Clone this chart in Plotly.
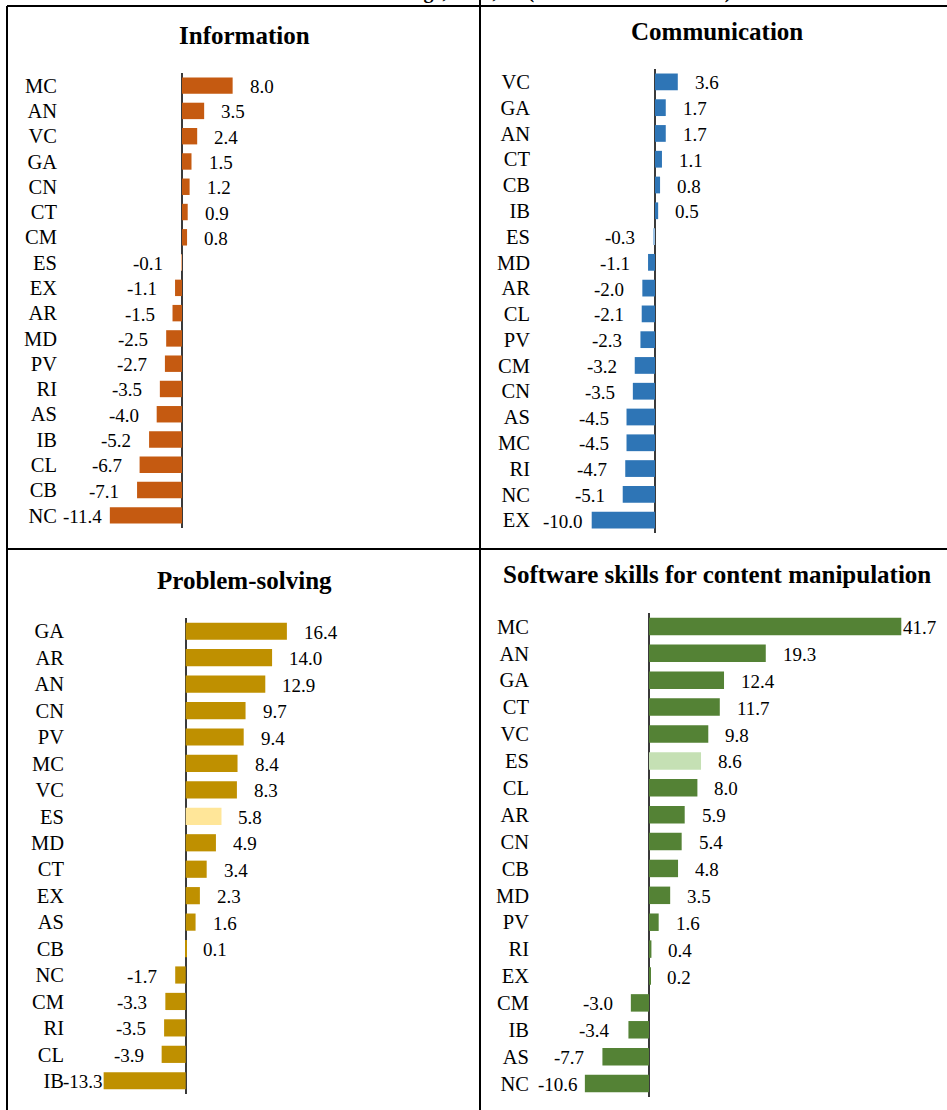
import plotly.graph_objects as go

W, H = 947, 1110

# ---------------- data ----------------
info_cats = ["MC", "AN", "VC", "GA", "CN", "CT", "CM", "ES", "EX", "AR", "MD", "PV", "RI", "AS", "IB", "CL", "CB", "NC"]
info_vals = [8.0, 3.5, 2.4, 1.5, 1.2, 0.9, 0.8, -0.1, -1.1, -1.5, -2.5, -2.7, -3.5, -4.0, -5.2, -6.7, -7.1, -11.4]

comm_cats = ["VC", "GA", "AN", "CT", "CB", "IB", "ES", "MD", "AR", "CL", "PV", "CM", "CN", "AS", "MC", "RI", "NC", "EX"]
comm_vals = [3.6, 1.7, 1.7, 1.1, 0.8, 0.5, -0.3, -1.1, -2.0, -2.1, -2.3, -3.2, -3.5, -4.5, -4.5, -4.7, -5.1, -10.0]

prob_cats = ["GA", "AR", "AN", "CN", "PV", "MC", "VC", "ES", "MD", "CT", "EX", "AS", "CB", "NC", "CM", "RI", "CL", "IB"]
prob_vals = [16.4, 14.0, 12.9, 9.7, 9.4, 8.4, 8.3, 5.8, 4.9, 3.4, 2.3, 1.6, 0.1, -1.7, -3.3, -3.5, -3.9, -13.3]

soft_cats = ["MC", "AN", "GA", "CT", "VC", "ES", "CL", "AR", "CN", "CB", "MD", "PV", "RI", "EX", "CM", "IB", "AS", "NC"]
soft_vals = [41.7, 19.3, 12.4, 11.7, 9.8, 8.6, 8.0, 5.9, 5.4, 4.8, 3.5, 1.6, 0.4, 0.2, -3.0, -3.4, -7.7, -10.6]

titles = ["Information", "Communication", "Problem-solving", "Software skills for content manipulation"]
highlight = "ES"
top_title = "Differences vs. EU average, 2019, % (above basic skills level)"

FONT = "Liberation Serif"
TXT = "#000000"
CAT_FS = 20.5
VAL_FS = 19

panels = [
    dict(title=titles[0], cats=info_cats, vals=info_vals, color="#C55A11", hl="#F4B183",
         L=62, R=470, zero=182, scale=6.33, top=73, bottom=528, gap=7, tx=244, ty=35,
         lab_l=61, lab_r=470),
    dict(title=titles[1], cats=comm_cats, vals=comm_vals, color="#2E75B6", hl="#9DC3E6",
         L=542, R=940, zero=655, scale=6.33, top=69, bottom=533, gap=14, tx=717, ty=31,
         lab_l=541, lab_r=940),
    dict(title=titles[2], cats=prob_cats, vals=prob_vals, color="#BF9000", hl="#FFE699",
         L=68, R=470, zero=185.7, scale=6.17, top=618, bottom=1094, gap=6, tx=244, ty=580,
         lab_l=61, lab_r=470),
    dict(title=titles[3], cats=soft_cats, vals=soft_vals, color="#548235", hl="#C5E0B4",
         L=537, R=937, zero=649, scale=6.05, top=613, bottom=1097, gap=10, tx=717, ty=574,
         lab_l=536, lab_r=938),
]


def text_w(s, fs=VAL_FS):
    w = 0.0
    for ch in s:
        if ch == "-":
            w += 0.333
        elif ch == ".":
            w += 0.25
        else:
            w += 0.5
    return w * fs


fig = go.Figure()
annotations = []
layout_axes = {}

for i, p in enumerate(panels):
    n = i + 1
    xs = "x" if n == 1 else f"x{n}"
    ys = "y" if n == 1 else f"y{n}"
    xkey = "xaxis" if n == 1 else f"xaxis{n}"
    ykey = "yaxis" if n == 1 else f"yaxis{n}"

    xmin = (p["L"] - p["zero"]) / p["scale"]
    xmax = (p["R"] - p["zero"]) / p["scale"]
    lab_min = (p["lab_l"] - p["zero"]) / p["scale"]
    lab_max = (p["lab_r"] - p["zero"]) / p["scale"]

    colors = [p["hl"] if c == highlight else p["color"] for c in p["cats"]]
    fig.add_trace(go.Bar(
        y=p["cats"], x=p["vals"], orientation="h",
        marker=dict(color=colors, line=dict(width=0)),
        xaxis=xs, yaxis=ys, showlegend=False, hoverinfo="x+y",
        cliponaxis=False,
    ))

    layout_axes[xkey] = dict(
        domain=[p["L"] / W, p["R"] / W], range=[xmin, xmax], anchor=ys,
        showticklabels=False, showgrid=False, showline=False, ticks="",
        zeroline=True, zerolinecolor="#3a3a3a", zerolinewidth=1.6, fixedrange=True,
    )
    layout_axes[ykey] = dict(
        domain=[1 - p["bottom"] / H, 1 - p["top"] / H], anchor=xs,
        type="category", categoryorder="array", categoryarray=p["cats"],
        range=[len(p["cats"]) - 0.5, -0.5],
        showgrid=False, showline=False, zeroline=False, ticks="",
        tickfont=dict(family=FONT, size=CAT_FS, color=TXT),
        ticklabelstandoff=max(p["gap"] - 3, 0), fixedrange=True,
    )

    # value labels (outside end, pushed back inside the plot area when they would overflow)
    for c, v in zip(p["cats"], p["vals"]):
        s = f"{v:.1f}"
        w = text_w(s)
        if v >= 0:
            if v + (17 + w) / p["scale"] > lab_max:
                ax, anc, sh = xmax, "right", p["lab_r"] - p["R"]
            else:
                ax, anc, sh = v, "left", 15
        else:
            if v - (18 + w) / p["scale"] < lab_min:
                ax, anc, sh = xmin, "left", p["lab_l"] - p["L"]
            else:
                ax, anc, sh = v, "right", -16
        annotations.append(dict(
            x=ax, y=c, xref=xs, yref=ys, text=s, showarrow=False,
            xanchor=anc, yanchor="middle", xshift=sh, yshift=-1,
            font=dict(family=FONT, size=VAL_FS, color=TXT),
        ))

    # panel title
    annotations.append(dict(
        x=p["tx"] / W, y=1 - p["ty"] / H, xref="paper", yref="paper",
        text=f"<b>{p['title']}</b>", showarrow=False, xanchor="center", yanchor="middle",
        font=dict(family=FONT, size=25, color=TXT),
    ))

# overall title, clipped at the very top as in the reference
annotations.append(dict(
    x=472 / W, y=1 - 5 / H, xref="paper", yref="paper", text=f"<b>{top_title}</b>",
    showarrow=False, xanchor="center", yanchor="bottom",
    font=dict(family=FONT, size=20, color=TXT),
))

# table borders
def line(x0, y0, x1, y1):
    return dict(type="line", xref="paper", yref="paper",
                x0=x0 / W, y0=1 - y0 / H, x1=x1 / W, y1=1 - y1 / H,
                line=dict(color="#000000", width=2))

shapes = [
    line(7, 6, W, 6),
    line(7, 549, W, 549),
    line(7, 6, 7, H),
    line(480, 0, 480, H),
]

fig.update_layout(
    width=W, height=H,
    margin=dict(l=0, r=0, t=0, b=0),
    paper_bgcolor="white", plot_bgcolor="white",
    bargap=0.35,
    annotations=annotations,
    shapes=shapes,
    font=dict(family=FONT, color=TXT),
    **layout_axes,
)

fig.write_html("out.html", config={"displayModeBar": False},
               post_script="document.body.style.margin='0px';")
